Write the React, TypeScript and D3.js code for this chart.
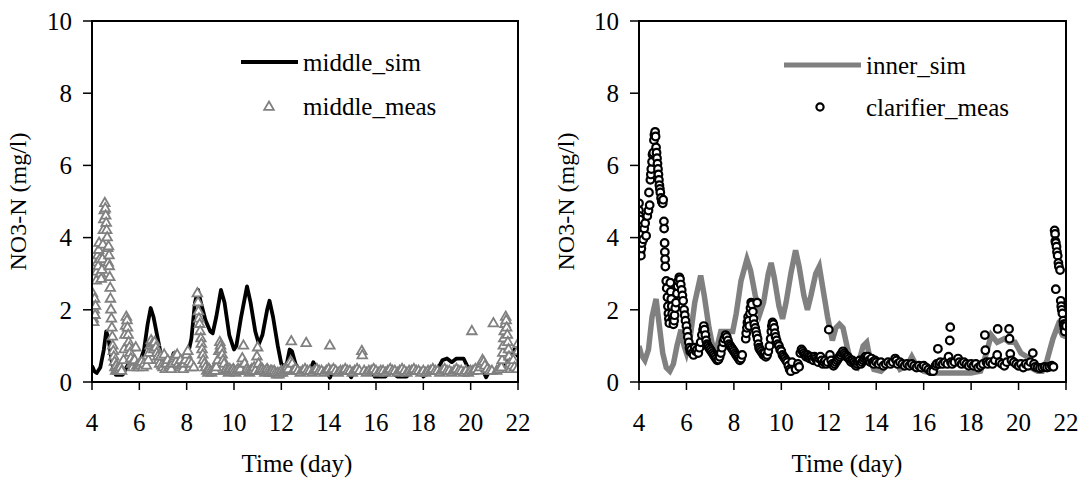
import React from "react";
import * as d3 from "d3";

const xTicks = [4, 6, 8, 10, 12, 14, 16, 18, 20, 22];
const yTicks = [0, 2, 4, 6, 8, 10];

// middle_sim (day, mg/l)
const middleSim: [number, number][] = [
  [4.0, 0.45], [4.1, 0.3], [4.2, 0.25], [4.35, 0.4], [4.5, 0.9], [4.6, 1.4], [4.7, 1.2], [4.85, 0.5],
  [5.0, 0.2], [5.3, 0.2], [5.45, 0.4], [5.6, 0.55], [5.8, 0.45], [6.0, 0.5], [6.2, 0.9], [6.35, 1.6],
  [6.48, 2.05], [6.6, 1.8], [6.75, 1.3], [6.9, 0.8], [7.05, 0.45], [7.3, 0.5], [7.45, 0.8], [7.6, 0.6],
  [7.8, 0.5], [8.0, 0.6], [8.2, 1.2], [8.35, 2.2], [8.48, 2.55], [8.6, 2.2], [8.8, 1.7], [9.0, 1.4],
  [9.1, 1.35], [9.25, 1.8], [9.45, 2.55], [9.6, 2.2], [9.8, 1.3], [10.0, 0.9], [10.1, 1.0], [10.3, 1.8],
  [10.55, 2.65], [10.7, 2.2], [10.9, 1.4], [11.05, 1.05], [11.2, 1.3], [11.4, 2.0], [11.5, 2.25],
  [11.65, 1.8], [11.85, 1.0], [12.0, 0.5], [12.2, 0.4], [12.35, 0.9], [12.45, 0.85], [12.6, 0.5],
  [12.8, 0.3], [13.2, 0.3], [13.35, 0.55], [13.5, 0.35], [13.9, 0.3], [14.05, 0.12], [14.2, 0.3],
  [14.8, 0.3], [14.95, 0.13], [15.1, 0.3], [15.8, 0.3], [15.95, 0.15], [16.4, 0.15], [16.6, 0.3],
  [16.9, 0.15], [17.3, 0.15], [17.5, 0.3], [17.9, 0.3], [18.0, 0.15], [18.3, 0.3], [18.6, 0.35],
  [18.8, 0.6], [19.0, 0.65], [19.2, 0.55], [19.4, 0.65], [19.7, 0.65], [19.85, 0.45], [20.0, 0.35],
  [20.5, 0.35], [20.65, 0.13], [20.8, 0.3], [21.3, 0.3], [21.6, 0.6], [21.85, 0.9], [22.0, 0.7],
];

// middle_meas (day, mg/l)
const middleMeas: [number, number][] = [
  [3.99, 2.35], [4.01, 2.2], [4.02, 2.45], [4.04, 1.95], [4.05, 1.75], [4.07, 1.65], [4.09, 2.0], [4.11, 2.3], [4.13, 1.85], [4.15, 2.1],
  [4.18, 2.8], [4.2, 3.05], [4.22, 3.3], [4.24, 3.5], [4.26, 3.2], [4.28, 3.65], [4.3, 3.85], [4.33, 3.4], [4.36, 3.0], [4.39, 2.85],
  [4.42, 3.1], [4.44, 3.4], [4.46, 3.8], [4.48, 4.2], [4.5, 4.5], [4.52, 4.75], [4.54, 4.95], [4.56, 4.8], [4.58, 4.6], [4.6, 4.4], [4.62, 4.2], [4.64, 4.0], [4.66, 3.7], [4.68, 3.3],
  [4.7, 3.75], [4.72, 3.5], [4.73, 3.2], [4.75, 2.9], [4.77, 2.6], [4.78, 2.3], [4.8, 2.0], [4.82, 1.75], [4.84, 1.5], [4.86, 1.25], [4.88, 1.0], [4.9, 0.85],
  [4.92, 0.7], [4.95, 0.55], [4.97, 0.4], [5.0, 0.3], [5.03, 0.45], [5.06, 0.35], [5.1, 0.3], [5.15, 0.35], [5.2, 0.4], [5.25, 0.3],
  [5.33, 0.6], [5.36, 0.9], [5.39, 1.3], [5.42, 1.55], [5.45, 1.8], [5.48, 1.7], [5.5, 1.5], [5.53, 1.3], [5.55, 1.1], [5.58, 0.95], [5.61, 0.8], [5.64, 0.65],
  [5.68, 0.5], [5.72, 0.4], [5.76, 0.55], [5.8, 0.6], [5.85, 0.95], [5.9, 0.45], [5.95, 0.4], [6.0, 0.5], [6.05, 0.45], [6.1, 0.55], [6.15, 0.4], [6.2, 0.5], [6.3, 0.45],
  [6.38, 0.6], [6.42, 0.8], [6.46, 1.0], [6.5, 1.15], [6.55, 1.05], [6.6, 0.9], [6.65, 1.1], [6.7, 0.95], [6.74, 0.8], [6.78, 0.7], [6.82, 0.6],
  [6.86, 0.5], [6.9, 0.7], [6.95, 0.45], [7.0, 0.4], [7.05, 0.75], [7.1, 0.35], [7.15, 0.5], [7.2, 0.6], [7.25, 0.4], [7.3, 0.45], [7.35, 0.35], [7.4, 0.5],
  [7.45, 0.65], [7.5, 0.7], [7.55, 0.55], [7.6, 0.75], [7.65, 0.5], [7.7, 0.4], [7.75, 0.6], [7.8, 0.45], [7.85, 0.35], [7.9, 0.5], [7.95, 0.6], [8.0, 0.75],
  [8.05, 0.85], [8.1, 0.55], [8.15, 0.4], [8.2, 0.5], [8.3, 0.4],
  [8.45, 2.45], [8.48, 2.2], [8.5, 1.95], [8.52, 1.75], [8.55, 1.6], [8.57, 1.4], [8.6, 1.2], [8.62, 1.05], [8.65, 0.9], [8.68, 0.75], [8.7, 0.6], [8.75, 0.5], [8.8, 0.4],
  [8.85, 0.3], [8.9, 0.25], [8.95, 0.35], [9.0, 0.3], [9.05, 0.25], [9.1, 0.3], [9.15, 0.35], [9.2, 0.3], [9.25, 0.4],
  [9.32, 0.6], [9.36, 0.85], [9.4, 1.1], [9.43, 1.0], [9.46, 0.9], [9.5, 0.75], [9.54, 0.6], [9.58, 0.5],
  [9.62, 0.3], [9.67, 0.35], [9.72, 0.3], [9.77, 0.25], [9.82, 0.35], [9.87, 0.3], [9.92, 0.3], [9.97, 0.35], [10.02, 0.3], [10.07, 0.25],
  [10.12, 0.3], [10.17, 0.35], [10.22, 0.3], [10.27, 0.35], [10.35, 0.65], [10.4, 1.0], [10.45, 0.5],
  [10.5, 0.3], [10.55, 0.35], [10.6, 0.3], [10.65, 0.25], [10.7, 0.3], [10.75, 0.35], [10.8, 0.3], [10.85, 0.4], [10.9, 0.3],
  [10.97, 0.7], [11.0, 0.95], [11.04, 0.5],
  [11.1, 0.35], [11.15, 0.3], [11.2, 0.35], [11.25, 0.3], [11.3, 0.25], [11.35, 0.3], [11.4, 0.35], [11.45, 0.3], [11.5, 0.25], [11.55, 0.3],
  [11.6, 0.3], [11.65, 0.25], [11.7, 0.3], [11.75, 0.25], [11.8, 0.2], [11.85, 0.25], [11.9, 0.2], [11.95, 0.25], [12.0, 0.3], [12.05, 0.25],
  [12.1, 0.3], [12.15, 0.35], [12.2, 0.3], [12.25, 0.4], [12.3, 0.35], [12.38, 0.55], [12.42, 1.12], [12.46, 0.5],
  [12.5, 0.3], [12.6, 0.35], [12.7, 0.3], [12.8, 0.25], [12.9, 0.3], [13.0, 0.35], [13.05, 1.07], [13.1, 0.3], [13.2, 0.3], [13.3, 0.25],
  [13.4, 0.3], [13.5, 0.35], [13.6, 0.3], [13.7, 0.3], [13.8, 0.25], [13.9, 0.3], [14.0, 0.35], [14.05, 1.0], [14.1, 0.3], [14.2, 0.35],
  [14.3, 0.3], [14.4, 0.25], [14.5, 0.3], [14.6, 0.3], [14.7, 0.35], [14.8, 0.3], [14.9, 0.3], [15.0, 0.25], [15.1, 0.3], [15.2, 0.35],
  [15.3, 0.3], [15.4, 0.85], [15.42, 0.73], [15.5, 0.3], [15.6, 0.25], [15.7, 0.3], [15.8, 0.3], [15.9, 0.35], [16.0, 0.3], [16.1, 0.25],
  [16.2, 0.3], [16.3, 0.3], [16.4, 0.25], [16.5, 0.3], [16.6, 0.35], [16.7, 0.3], [16.8, 0.3], [16.9, 0.25], [17.0, 0.3], [17.1, 0.35],
  [17.2, 0.3], [17.3, 0.25], [17.4, 0.3], [17.5, 0.3], [17.6, 0.35], [17.7, 0.3], [17.8, 0.3], [17.9, 0.25], [18.0, 0.3], [18.1, 0.25],
  [18.2, 0.3], [18.3, 0.3], [18.4, 0.35], [18.5, 0.3], [18.6, 0.3], [18.7, 0.25], [18.8, 0.3], [18.9, 0.35], [19.0, 0.3], [19.1, 0.3],
  [19.2, 0.25], [19.3, 0.3], [19.4, 0.35], [19.5, 0.3], [19.6, 0.3], [19.7, 0.25], [19.8, 0.3], [19.9, 0.25], [20.0, 0.3], [20.05, 1.4],
  [20.1, 0.3], [20.2, 0.35], [20.3, 0.3], [20.4, 0.4], [20.45, 0.5], [20.5, 0.6], [20.55, 0.55], [20.6, 0.45], [20.7, 0.35], [20.8, 0.3],
  [20.9, 0.3], [20.96, 1.62], [21.1, 0.3], [21.2, 0.35],
  [21.3, 0.4], [21.33, 0.6], [21.36, 0.8], [21.38, 1.0], [21.4, 1.2], [21.42, 1.4], [21.45, 1.6], [21.48, 1.8], [21.5, 1.7], [21.52, 1.5],
  [21.55, 1.3], [21.57, 1.1], [21.6, 0.9], [21.62, 0.7], [21.65, 0.5], [21.68, 0.35], [21.75, 0.45], [21.8, 0.6], [21.85, 0.4],
  [21.97, 0.35], [22.0, 0.85], [22.0, 1.05],
];

// inner_sim (day, mg/l)
const innerSim: [number, number][] = [
  [4.0, 1.0], [4.1, 0.75], [4.25, 0.6], [4.4, 0.9], [4.55, 1.8], [4.72, 2.3], [4.85, 1.6], [5.0, 0.8],
  [5.15, 0.4], [5.3, 0.3], [5.45, 0.5], [5.6, 1.0], [5.77, 1.45], [5.9, 1.0], [6.0, 0.8], [6.15, 1.2],
  [6.35, 2.2], [6.6, 2.95], [6.75, 2.4], [6.95, 1.5], [7.15, 0.85], [7.3, 1.0], [7.45, 1.4], [7.7, 1.4],
  [7.95, 1.4], [8.1, 1.9], [8.3, 2.8], [8.55, 3.4], [8.7, 3.1], [8.9, 2.4], [9.1, 1.9], [9.25, 2.2],
  [9.45, 3.0], [9.57, 3.3], [9.7, 2.9], [9.9, 2.1], [10.05, 1.75], [10.2, 2.2], [10.4, 3.0], [10.6, 3.65],
  [10.75, 3.2], [10.95, 2.4], [11.1, 2.0], [11.25, 2.4], [11.45, 3.0], [11.6, 3.2], [11.75, 2.6],
  [11.95, 1.8], [12.15, 1.15], [12.3, 1.5], [12.45, 1.6], [12.6, 1.5], [12.8, 0.9], [12.95, 0.5],
  [13.2, 0.4], [13.45, 1.0], [13.6, 1.1], [13.75, 0.6], [13.9, 0.35], [14.2, 0.3], [14.5, 0.5],
  [14.8, 0.6], [15.0, 0.35], [15.3, 0.45], [15.5, 0.7], [15.7, 0.45], [16.0, 0.3], [16.3, 0.25],
  [17.0, 0.25], [17.5, 0.25], [18.0, 0.25], [18.4, 0.3], [18.6, 0.7], [18.85, 1.3], [19.1, 1.1],
  [19.4, 1.2], [19.6, 1.1], [19.85, 1.1], [20.1, 0.8], [20.35, 0.7], [20.5, 0.4], [20.8, 0.3],
  [21.0, 0.3], [21.2, 0.6], [21.45, 1.2], [21.65, 1.55], [21.85, 1.3], [22.0, 1.25],
];

// clarifier_meas (day, mg/l)
const clarifierMeas: [number, number][] = [
  [4.0, 4.95], [4.0, 4.75], [4.01, 4.6], [4.03, 4.5], [4.04, 3.9], [4.06, 3.6], [4.08, 3.5], [4.1, 3.7], [4.12, 3.85], [4.15, 4.1],
  [4.18, 3.95], [4.22, 4.25], [4.26, 4.4], [4.3, 4.05], [4.35, 4.6], [4.4, 4.75], [4.42, 5.25], [4.45, 4.9], [4.48, 5.6], [4.5, 5.75],
  [4.52, 5.9], [4.55, 6.1], [4.57, 6.3], [4.6, 6.35], [4.63, 6.7], [4.65, 6.85], [4.68, 6.93], [4.7, 6.8], [4.72, 6.5], [4.74, 6.35],
  [4.76, 6.2], [4.78, 6.05], [4.8, 5.9], [4.82, 5.75], [4.84, 5.6], [4.86, 5.45], [4.88, 5.35], [4.9, 5.25], [4.93, 5.1], [4.96, 5.0],
  [5.0, 4.95], [5.02, 5.05], [5.05, 4.45], [5.06, 4.25], [5.08, 3.85], [5.09, 3.6], [5.1, 3.4], [5.11, 3.2], [5.15, 2.8], [5.17, 2.6],
  [5.2, 2.35], [5.22, 2.1], [5.24, 1.9], [5.26, 1.75], [5.28, 1.63],
  [5.32, 2.75], [5.34, 2.5], [5.36, 2.3], [5.38, 2.1], [5.4, 1.9], [5.42, 1.75], [5.45, 1.6], [5.48, 1.7], [5.5, 1.85], [5.53, 2.05],
  [5.56, 2.2], [5.6, 2.45], [5.63, 2.65], [5.66, 2.8], [5.7, 2.9], [5.73, 2.85], [5.76, 2.7], [5.8, 2.55], [5.83, 2.4], [5.86, 2.25],
  [5.9, 2.0], [5.93, 1.85], [5.96, 1.7], [6.0, 1.55], [6.03, 1.4], [6.06, 1.25], [6.1, 1.1], [6.13, 0.95], [6.16, 0.85], [6.2, 0.9],
  [6.25, 0.8], [6.3, 0.75], [6.35, 0.95], [6.4, 0.85], [6.45, 0.9], [6.5, 0.8], [6.55, 0.95], [6.6, 1.1], [6.65, 1.3], [6.7, 1.45],
  [6.73, 1.55], [6.76, 1.45], [6.8, 1.3], [6.83, 1.15], [6.87, 1.05], [6.9, 1.0], [6.95, 0.95], [7.0, 0.9], [7.05, 0.85], [7.1, 0.8],
  [7.15, 0.75], [7.2, 0.7], [7.25, 0.65], [7.3, 0.6], [7.35, 0.62], [7.4, 0.7], [7.45, 0.8], [7.5, 0.95], [7.55, 1.1], [7.6, 1.2],
  [7.65, 1.3], [7.7, 1.25], [7.75, 1.15], [7.8, 1.05], [7.85, 1.0], [7.9, 0.95], [7.95, 0.9], [8.0, 0.85], [8.05, 0.8], [8.1, 0.75],
  [8.15, 0.7], [8.2, 0.65], [8.25, 0.6], [8.3, 0.65], [8.35, 0.75],
  [8.5, 1.2], [8.52, 1.35], [8.55, 1.5], [8.57, 1.65], [8.6, 1.8], [8.62, 1.7], [8.65, 1.55], [8.68, 1.9], [8.7, 2.05], [8.73, 2.2],
  [8.76, 2.15], [8.8, 1.95], [8.83, 1.75], [8.86, 1.6], [8.9, 1.5], [8.93, 1.4], [8.96, 1.3], [8.98, 2.2], [9.0, 1.2], [9.03, 1.05],
  [9.06, 0.95], [9.1, 0.9], [9.15, 0.85], [9.2, 0.8], [9.25, 0.75], [9.3, 0.8], [9.35, 0.7], [9.4, 0.75], [9.45, 0.85],
  [9.5, 1.0], [9.55, 1.2], [9.58, 1.4], [9.6, 1.55], [9.63, 1.65], [9.66, 1.6], [9.7, 1.5], [9.73, 1.35], [9.76, 1.25], [9.8, 1.15],
  [9.85, 1.05], [9.9, 1.0], [9.95, 0.9], [10.0, 0.85], [10.05, 0.75], [10.1, 0.7], [10.15, 0.65], [10.2, 0.6], [10.25, 0.55], [10.3, 0.45],
  [10.35, 0.35], [10.4, 0.3], [10.45, 0.55], [10.6, 0.35], [10.7, 0.5], [10.75, 0.42],
  [10.8, 0.8], [10.85, 0.9], [10.9, 0.85], [10.95, 0.8], [11.0, 0.75], [11.05, 0.7], [11.1, 0.75], [11.15, 0.7], [11.2, 0.65], [11.25, 0.7],
  [11.3, 0.65], [11.35, 0.6], [11.4, 0.7], [11.45, 0.65], [11.5, 0.6], [11.55, 0.55], [11.6, 0.65], [11.65, 0.7], [11.7, 0.6], [11.75, 0.5],
  [11.8, 0.55], [11.85, 0.6], [11.9, 0.5], [11.95, 0.55], [12.0, 1.45], [12.05, 0.75], [12.1, 0.6], [12.15, 0.5], [12.2, 0.45], [12.25, 0.5],
  [12.3, 0.55], [12.35, 0.6], [12.4, 0.65], [12.45, 0.7], [12.5, 0.75], [12.55, 0.8], [12.6, 0.85], [12.65, 0.8], [12.7, 0.75], [12.75, 0.7],
  [12.8, 0.7], [12.85, 0.65], [12.9, 0.6], [12.95, 0.55], [13.0, 0.6], [13.05, 0.55], [13.1, 0.5], [13.15, 0.45], [13.2, 0.5], [13.25, 0.55],
  [13.3, 0.6], [13.35, 0.5], [13.4, 0.55], [13.45, 0.6], [13.5, 0.65], [13.55, 0.7], [13.6, 0.65], [13.65, 0.7], [13.7, 0.6], [13.75, 0.55],
  [13.8, 0.65], [13.85, 0.55], [13.9, 0.5], [13.95, 0.6], [14.0, 0.55], [14.1, 0.5], [14.2, 0.55], [14.3, 0.45], [14.4, 0.5], [14.5, 0.55],
  [14.6, 0.5], [14.7, 0.55], [14.8, 0.65], [14.85, 0.6], [14.9, 0.5], [15.0, 0.55], [15.1, 0.5], [15.2, 0.45], [15.3, 0.5], [15.4, 0.45],
  [15.5, 0.5], [15.6, 0.45], [15.7, 0.4], [15.8, 0.45], [15.9, 0.4], [16.0, 0.45], [16.1, 0.4], [16.2, 0.35], [16.3, 0.3], [16.4, 0.3],
  [16.5, 0.45], [16.55, 0.5], [16.6, 0.92], [16.65, 0.5], [16.7, 0.55], [16.8, 0.5], [16.9, 0.55], [17.0, 0.5], [17.05, 0.7], [17.1, 1.15],
  [17.12, 1.52], [17.15, 0.55], [17.2, 0.5], [17.3, 0.55], [17.45, 0.65], [17.5, 0.55], [17.6, 0.5], [17.7, 0.55], [17.8, 0.5], [17.9, 0.45],
  [18.0, 0.5], [18.1, 0.45], [18.2, 0.5], [18.3, 0.4], [18.4, 0.45], [18.5, 0.5], [18.58, 1.3], [18.6, 0.88], [18.65, 0.55], [18.7, 0.5],
  [18.8, 0.55], [18.9, 0.5], [19.0, 0.6], [19.1, 0.75], [19.12, 1.47], [19.2, 0.55], [19.3, 0.5], [19.4, 0.45], [19.5, 0.55], [19.6, 1.47],
  [19.62, 1.2], [19.65, 0.78], [19.7, 0.6], [19.8, 0.55], [19.9, 0.5], [20.0, 0.45], [20.1, 0.5], [20.2, 0.4], [20.3, 0.5], [20.4, 0.45],
  [20.5, 0.55], [20.6, 0.8], [20.65, 0.5], [20.7, 0.42], [20.8, 0.4], [20.9, 0.38], [21.0, 0.4], [21.1, 0.42], [21.2, 0.4], [21.3, 0.42],
  [21.4, 0.45], [21.47, 0.42],
  [21.52, 4.2], [21.54, 4.1], [21.55, 3.9], [21.57, 3.85], [21.6, 3.75], [21.62, 3.6], [21.65, 3.5], [21.68, 3.3], [21.7, 3.2], [21.57, 2.57],
  [21.75, 3.1], [21.78, 2.25], [21.8, 2.1], [21.82, 2.0], [21.85, 1.9], [21.88, 1.7], [21.9, 1.6], [21.93, 1.5], [21.95, 1.4], [21.97, 1.6],
  [22.0, 1.55],
];

const FONT = "Liberation Serif, Times New Roman, serif";
const FS = 25;
const TOP = 21;
const BOTTOM = 382;

type PanelProps = {
  id: string;
  left: number;
  right: number;
  titleX: number;
  xTitleCenter: number;
  children: (x: d3.ScaleLinear<number, number>, y: d3.ScaleLinear<number, number>) => React.ReactNode;
};

function Panel({ id, left, right, titleX, xTitleCenter, children }: PanelProps) {
  const x = d3.scaleLinear().domain([4, 22]).range([left, right]);
  const y = d3.scaleLinear().domain([0, 10]).range([BOTTOM, TOP]);
  return (
    <g>
      <defs>
        <clipPath id={id}>
          <rect x={left} y={TOP} width={right - left} height={BOTTOM - TOP} />
        </clipPath>
      </defs>
      <g clipPath={`url(#${id})`}>{children(x, y)}</g>
      <rect x={left} y={TOP} width={right - left} height={BOTTOM - TOP} fill="none" stroke="#000" strokeWidth={2} />
      {yTicks.map((t) => (
        <g key={"y" + t}>
          <line x1={left - 9} x2={left} y1={y(t)} y2={y(t)} stroke="#000" strokeWidth={1.5} />
          <text x={left - 20} y={y(t)} dy="0.35em" textAnchor="end" fontSize={FS} style={{ fontFamily: FONT }}>
            {t}
          </text>
        </g>
      ))}
      {xTicks.map((t) => (
        <g key={"x" + t}>
          <line x1={x(t)} x2={x(t)} y1={BOTTOM} y2={BOTTOM + 8} stroke="#000" strokeWidth={1.5} />
          <text x={x(t)} y={431} textAnchor="middle" fontSize={FS} style={{ fontFamily: FONT }}>
            {t}
          </text>
        </g>
      ))}
      <text
        transform={`translate(${titleX},${(TOP + BOTTOM) / 2}) rotate(-90)`}
        textAnchor="middle"
        dy="0.35em"
        fontSize={FS - 1}
        style={{ fontFamily: FONT }}
      >
        NO3-N (mg/l)
      </text>
      <text x={xTitleCenter} y={472} textAnchor="middle" fontSize={FS} style={{ fontFamily: FONT }}>
        Time (day)
      </text>
    </g>
  );
}

const triangle = d3.symbol().type(d3.symbolTriangle).size(40)() as string;

export default function App() {
  const line = (x: d3.ScaleLinear<number, number>, y: d3.ScaleLinear<number, number>) =>
    d3
      .line<[number, number]>()
      .x((d) => x(d[0]))
      .y((d) => y(d[1]))
      .curve(d3.curveLinear);

  return (
    <svg width={1082} height={479} style={{ position: "absolute", left: 0, top: 0, background: "#fff" }}>
      <rect width={1082} height={479} fill="#fff" />
      <Panel id="clipL" left={92} right={518} titleX={18} xTitleCenter={297}>
        {(x, y) => (
          <g>
            <path d={line(x, y)(middleSim) || ""} fill="none" stroke="#000" strokeWidth={3.8} strokeLinejoin="round" />
            {middleMeas.map((d, i) => (
              <path
                key={i}
                d={triangle}
                transform={`translate(${x(d[0])},${y(d[1])})`}
                fill="#fff"
                stroke="#808080"
                strokeWidth={1.8}
              />
            ))}
          </g>
        )}
      </Panel>
      <Panel id="clipR" left={639} right={1066} titleX={566} xTitleCenter={847}>
        {(x, y) => (
          <g>
            <path d={line(x, y)(innerSim) || ""} fill="none" stroke="#808080" strokeWidth={5.5} strokeLinejoin="miter" />
            {clarifierMeas.map((d, i) => (
              <circle key={i} cx={x(d[0])} cy={y(d[1])} r={3.8} fill="#fff" stroke="#000" strokeWidth={2.2} />
            ))}
          </g>
        )}
      </Panel>
      {/* legends */}
      <line x1={241} x2={298} y1={62} y2={62} stroke="#000" strokeWidth={4} />
      <text x={303} y={71} fontSize={FS} style={{ fontFamily: FONT }}>middle_sim</text>
      <path d={triangle} transform="translate(269,107)" fill="#fff" stroke="#808080" strokeWidth={1.8} />
      <text x={303} y={115} fontSize={FS} style={{ fontFamily: FONT }}>middle_meas</text>
      <line x1={784} x2={861} y1={65} y2={65} stroke="#808080" strokeWidth={5} />
      <text x={866} y={74} fontSize={FS} style={{ fontFamily: FONT }}>inner_sim</text>
      <circle cx={820} cy={107} r={3.6} fill="#fff" stroke="#000" strokeWidth={2.2} />
      <text x={866} y={116} fontSize={FS} style={{ fontFamily: FONT }}>clarifier_meas</text>
    </svg>
  );
}
